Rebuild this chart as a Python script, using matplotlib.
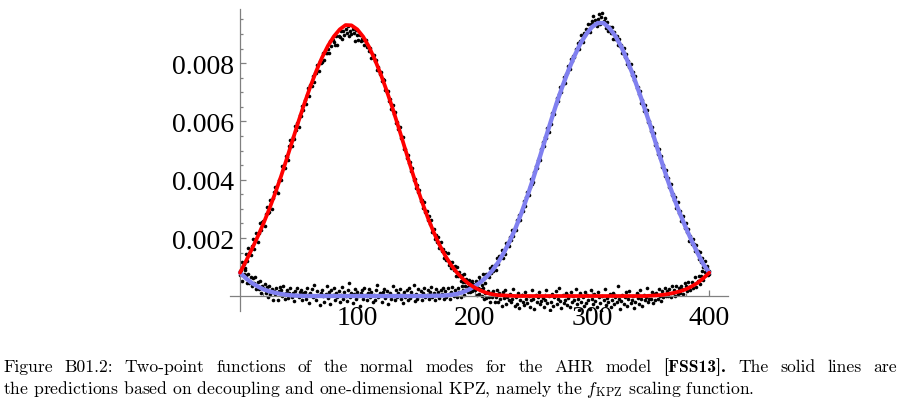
import matplotlib
matplotlib.use("Agg")
import matplotlib.pyplot as plt
import numpy as np

# values in units of 1e-5
scale = 1e-5

# fitted curves, every 5 sites (x = 0..400)
curve_x = np.arange(0, 401, 5)
red_curve = [81, 120, 161, 204, 250, 300, 354, 412, 474, 538,
             602, 663, 720, 773, 820, 860, 892, 916, 931, 930,
             916, 891, 856, 812, 762, 706, 646, 582, 516, 450,
             386, 326, 271, 221, 177, 139, 107, 81, 60, 43,
             30, 20, 12, 7, 4, 3, 2,
             1, 1, 1, 1, 1, 1, 1, 1, 1, 1, 1, 1, 1, 1, 1, 1, 1, 1, 1, 1, 1, 1, 1,
             2, 3, 5, 8, 12, 17, 24, 34, 46, 62, 81]
blue_curve = [81, 62, 46, 34, 24, 17, 12, 8, 5, 3, 2,
              1, 1, 1, 1, 1, 1, 1, 1, 1, 1, 1, 1, 1, 1, 1, 1, 1, 1, 1, 1, 1, 1,
              2, 2, 3, 5, 8, 14, 23, 34, 48, 66,
              88, 116, 150, 190, 235, 287, 344, 405, 470, 536,
              601, 664, 722, 776, 824, 866, 899, 924, 938, 938,
              920, 893, 857, 811, 760, 703, 644, 583, 518, 455,
              394, 337, 284, 236, 191, 149, 110, 81]

# simulation points, one per site (x = 0..400)
dots_x = np.arange(0, 401)
red_dots = [
    86, 77, 117, 112, 97, 145, 120, 166, 148, 143,
    173, 198, 164, 193, 217, 186, 217, 252, 226, 256,
    258, 240, 282, 305, 286, 290, 329, 300, 337, 357,
    374, 361, 353, 399, 403, 398, 446, 443, 439, 480,
    477, 469, 515, 537, 517, 548, 539, 584, 572, 595,
    582, 622, 620, 654, 639, 675, 659, 690, 715, 687,
    726, 721, 755, 734, 765, 765, 794, 772, 806, 799,
    805, 834, 811, 836, 834, 848, 836, 877, 859, 878,
    872, 862, 892, 864, 893, 891, 911, 882, 910, 898,
    919, 903, 926, 895, 910, 900, 917, 902, 877, 913,
    898, 881, 898, 876, 884, 881, 862, 881, 854, 857,
    842, 852, 818, 826, 829, 806, 812, 777, 786, 762,
    770, 739, 745, 742, 709, 702, 706, 672, 676, 642,
    656, 627, 634, 596, 599, 574, 581, 542, 548, 547,
    506, 507, 474, 486, 459, 462, 431, 440, 400, 404,
    372, 382, 358, 365, 328, 332, 303, 322, 288, 292,
    263, 275, 247, 261, 219, 231, 198, 209, 187, 202,
    165, 187, 156, 164, 131, 153, 125, 148, 108, 119,
    97, 118, 92, 103, 68, 99, 71, 85, 54, 72,
    48, 77, 49, 58, 31, 57, 30, 44, 17, 43,
    22, 40, 6, 28, 8, 26, 2, 27, -9, 10,
    -6, 19, -2, -21, 12, -3, 18, -20, -1, 21,
    -18, 10, -10, -32, 14, -5, 21, -25, -1, -13,
    8, -18, -8, 26, -32, -4, -26, 10, -40, -12,
    4, -18, -30, 16, -8, -22, 0, -36, -14, 22,
    -10, -44, 6, -20, -2, 14, -28, -16, -6, -38,
    -12, 20, -24, 2, -48, -18, 8, -34, -4, 18,
    -26, -10, 30, -16, -40, 6, -22, -12, 12, -30,
    -6, -36, 16, -20, 0, -14, 24, -28, -8, -46,
    10, -18, -2, -32, 14, -24, 4, -12, -42, 20,
    -8, -28, 8, -16, -36, 16, -4, -22, -50, 2,
    -12, 26, -30, -6, -18, 8, -38, -14, 12, -26,
    -2, -20, 34, -10, -44, -16, 6, -28, -4, 14,
    -34, -8, 18, -22, -12, 2, -40, -18, 10, -6,
    -26, 22, -10, -32, 4, -14, -2, 28, -20, -8,
    -8, 14, -22, 9, -13, 11, -9, 24, 0, -15,
    19, -4, 28, 1, 17, 0, 25, -4, 34, 13,
    22, 1, 34, 9, 30, 11, 34, 24, 7, 45,
    36, 18, 48, 32, 22, 50, 30, 43, 65, 32,
    52, 69, 42, 70, 87, 56, 82, 72, 96, 73,
    87]
blue_dots = [
    73, 91, 53, 76, 90, 72, 45, 78, 46, 65,
    36, 62, 45, 65, 24, 48, 26, 52, 12, 34,
    30, 41, 11, 32, -2, 37, 8, 25, -14, 17,
    8, 27, -14, 18, 31, 20, 1, 35, -10, 10,
    23, -5, 10, 28, -1, 13, -17, 17, 5, 29,
    -4, 14, 22, -12, 10, 16, -8, 30, 4, -22,
    10, 24, -4, 38, 2, -14, 18, 6, -30, 12,
    22, 0, -18, 8, 34, -6, 14, -26, 20, 4,
    28, -12, 10, -2, 18, -20, 6, 32, -8, 14,
    2, -16, 20, 44, -4, 12, -24, 8, 26, -10,
    16, 0, -32, 10, 22, -8, 30, 4, -14, 12,
    24, -4, 16, -20, 6, -12, 20, 40, -2, 10,
    8, -18, 14, 26, -6, 18, -28, 4, 12, -10,
    34, 2, -14, 20, -4, 10, 26, -8, 6, -22,
    14, -2, 22, -12, 30, -6, 16, 4, 38, -16,
    8, -10, 24, 0, 18, -14, 12, 28, -4, 6,
    20, -8, 14, 32, -2, 10, -12, 24, 4, 16,
    -6, 20, 8, 30, -10, 17, -4, 28, 7, -9,
    15, 32, 0, 23, 11, -2, 29, 16, -2, 37,
    22, 4, 36, 21, 15, 37, 15, 33, 52, 24,
    28, 53, 42, 28, 65, 56, 40, 77, 63, 46,
    78, 72, 65, 97, 80, 104, 86, 109, 91, 130,
    110, 137, 134, 158, 133, 160, 146, 184, 176, 174,
    204, 193, 228, 207, 232, 227, 261, 258, 278, 263,
    297, 294, 328, 309, 341, 358, 346, 374, 401, 387,
    393, 426, 447, 440, 469, 476, 469, 506, 528, 515,
    548, 543, 578, 565, 592, 593, 628, 630, 627, 661,
    680, 672, 695, 719, 700, 728, 751, 732, 764, 767,
    790, 780, 815, 809, 826, 820, 850, 849, 871, 848,
    876, 897, 873, 902, 896, 917, 906, 935, 906, 933,
    944, 961, 934, 948, 929, 950, 968, 934, 960, 974,
    944, 954, 921, 941, 910, 924, 903, 925, 884, 906,
    883, 894, 863, 883, 860, 863, 836, 853, 821, 830,
    797, 809, 787, 796, 760, 770, 743, 755, 714, 718,
    695, 705, 663, 674, 636, 656, 628, 638, 597, 601,
    569, 580, 551, 560, 519, 526, 489, 505, 476, 482,
    445, 449, 413, 432, 402, 406, 375, 387, 346, 352,
    331, 340, 304, 323, 287, 294, 260, 271, 275, 236,
    252, 221, 230, 191, 208, 181, 197, 178, 154, 177,
    155, 127, 151, 118, 130, 102, 120, 94, 103, 75,
    75]

x_major = [100, 200, 300, 400]
y_major = [0.002, 0.004, 0.006, 0.008]
y_labels = ["0.002", "0.004", "0.006", "0.008"]

caption_1 = ("Figure B01.2: Two-point functions of the normal modes for the AHR model "
             "[FSS13]. The solid lines are")
caption_2 = (r"the predictions based on decoupling and one-dimensional KPZ, namely the "
             r"$f_{\mathrm{KPZ}}$ scaling function.")
bold_word = "[FSS13]."

plt.rcParams["mathtext.fontset"] = "cm"

W, H = 901, 402
fig = plt.figure(figsize=(W / 100, H / 100), dpi=100)
ax = fig.add_axes([0.2553, 0.2239, 0.5527, 0.7512])

red_y = np.array(red_curve) * scale
blue_y = np.array(blue_curve) * scale
ax.plot(dots_x, np.array(red_dots) * scale, "o", ms=2.6, mew=0, color="black", zorder=2)
ax.plot(dots_x, np.array(blue_dots) * scale, "o", ms=2.6, mew=0, color="black", zorder=2)
ax.plot(curve_x, blue_y, color="#8080f0", lw=3.1, solid_capstyle="round", zorder=3)
ax.plot(curve_x, red_y, color="#ff0000", lw=2.7, solid_capstyle="round", zorder=4)

ax.set_xlim(-8.5, 416)
ax.set_ylim(-0.000504, 0.00986)

for side in ["top", "right"]:
    ax.spines[side].set_visible(False)
ax.spines["left"].set_position(("data", 0))
ax.spines["bottom"].set_position(("data", 0))
for side in ["left", "bottom"]:
    ax.spines[side].set_color("#808080")
    ax.spines[side].set_linewidth(0.9)

ax.set_xticks(x_major)
ax.set_xticks([v for v in range(20, 401, 20) if v % 100], minor=True)
ax.set_yticks(y_major)
ax.set_yticklabels(y_labels)
ax.set_yticks([v * 0.0005 for v in range(1, 20) if v % 4], minor=True)

ax.tick_params(which="both", direction="in", color="#808080", width=0.9)
ax.tick_params(which="major", length=4)
ax.tick_params(which="minor", length=2.5)
ax.tick_params(axis="x", pad=6)
ax.tick_params(axis="y", pad=4)
for lab in ax.get_xticklabels() + ax.get_yticklabels():
    lab.set_family("Liberation Serif")
    lab.set_fontsize(20)

# caption: first line justified between 3 px and 897 px, second line ragged
cap_size = 12.7
renderer = fig.canvas.get_renderer()
words = caption_1.split(" ")
items = [fig.text(0, 0.075, w, fontsize=cap_size, va="baseline",
                  family="cmb10" if w == bold_word else "cmr10")
         for w in words]
widths = [t.get_window_extent(renderer).width for t in items]
gap = (894 - sum(widths)) / (len(words) - 1)
x = 3.0
for t, w in zip(items, widths):
    t.set_x(x / W)
    x += w + gap
fig.text(3 / W, 0.021, caption_2, family="cmr10", fontsize=cap_size, va="baseline")

fig.savefig("out.png", dpi=100)
